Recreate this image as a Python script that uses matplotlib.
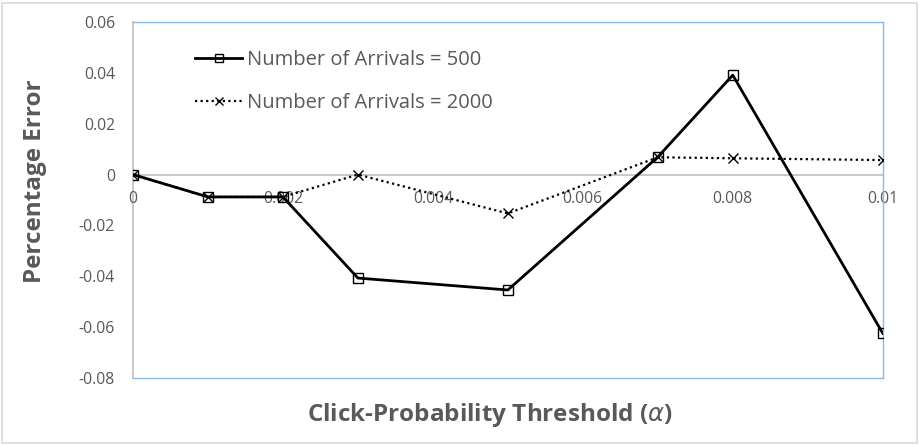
import matplotlib
matplotlib.use("Agg")
import matplotlib.pyplot as plt
from matplotlib.lines import Line2D
from matplotlib.patches import Rectangle

# Threshold values and percentage error for each arrival count
alpha = [0.0, 0.001, 0.002, 0.003, 0.005, 0.007, 0.008, 0.01]
err_500 = [0.0, -0.0088, -0.0088, -0.0407, -0.0454, 0.0069, 0.0391, -0.0624]
err_2000 = [0.0, -0.0088, -0.0088, 0.0, -0.0153, 0.0068, 0.0064, 0.0057]

x_ticks = [0, 0.002, 0.004, 0.006, 0.008, 0.01]
x_tick_labels = ["0", "0.002", "0.004", "0.006", "0.008", "0.01"]
y_ticks = [-0.08, -0.06, -0.04, -0.02, 0, 0.02, 0.04, 0.06]
y_tick_labels = ["-0.08", "-0.06", "-0.04", "-0.02", "0", "0.02", "0.04", "0.06"]

label_500 = "Number of Arrivals = 500"
label_2000 = "Number of Arrivals = 2000"

TEXT = "#595959"
AXIS = "#BFBFBF"
FRAME = "#8DB9E8"

plt.rcParams["font.family"] = ["Open Sans", "DejaVu Sans"]

fig = plt.figure(figsize=(9.19, 4.45), dpi=100)
fig.patches.append(Rectangle((0.002, 0.004), 0.996, 0.99, transform=fig.transFigure,
                             fill=False, edgecolor="#D9D9D9", linewidth=1.2))

ax = fig.add_axes([0.1447, 0.1506, 0.8158, 0.8000])

ax.plot(alpha, err_500, color="black", linewidth=2.0, marker="s", markersize=7,
        markerfacecolor="none", markeredgecolor="black", markeredgewidth=1.0,
        label=label_500, zorder=3)
ax.plot(alpha, err_2000, color="black", linewidth=1.6, linestyle=(0, (1, 1.5)),
        marker="x", markersize=7, markeredgewidth=1.0,
        label=label_2000, zorder=4)

ax.set_xlim(0, 0.01)
ax.set_ylim(-0.08, 0.06)

ax.set_xticks(x_ticks)
ax.set_xticklabels(x_tick_labels)
ax.set_yticks(y_ticks)
ax.set_yticklabels(y_tick_labels)
ax.tick_params(axis="both", length=0, labelsize=11.3, labelcolor=TEXT)
ax.tick_params(axis="x", pad=12)
ax.tick_params(axis="y", pad=13)

# Axis lines: vertical axis at the left, horizontal axis along zero
ax.spines["bottom"].set_position(("data", 0))
ax.spines["bottom"].set_color(AXIS)
ax.spines["bottom"].set_linewidth(1.2)
ax.spines["left"].set_color(AXIS)
ax.spines["left"].set_linewidth(1.2)
ax.spines["left"].set_zorder(1)
ax.spines["bottom"].set_zorder(1)
for side in ("top", "right"):
    ax.spines[side].set_color(FRAME)
    ax.spines[side].set_linewidth(1.0)
ax.add_line(Line2D([0, 1], [0, 0], transform=ax.transAxes, color=FRAME,
                   linewidth=1.0, clip_on=False))

ax.set_ylabel("Percentage Error", fontsize=17.5, fontweight="bold", color=TEXT)
ax.yaxis.set_label_coords(-0.115, 0.553)
fig.text(0.533, 0.068, r"Click-Probability Threshold ($\alpha$)", fontsize=17.5,
         fontweight="bold", color=TEXT, ha="center", va="center")

leg = ax.legend(loc="upper left", bbox_to_anchor=(0.072, 0.944), frameon=False,
                fontsize=14.5, handlelength=2.35, handletextpad=0.25,
                labelspacing=1.15, borderaxespad=0, markerscale=0.8)
for t in leg.get_texts():
    t.set_color(TEXT)

fig.savefig("out.png", dpi=100)
